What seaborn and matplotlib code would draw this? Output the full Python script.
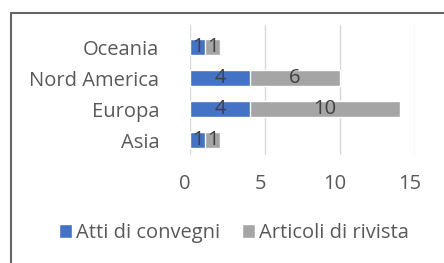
import pandas as pd
import seaborn as sns
import matplotlib.pyplot as plt
from matplotlib.patches import Rectangle
from matplotlib.transforms import ScaledTranslation

# dati
regioni = ['Oceania', 'Nord America', 'Europa', 'Asia']
atti_convegni = [1, 4, 4, 1]
articoli_rivista = [1, 6, 10, 1]

BLU = '#4472C4'
GRIGIO = '#A5A5A5'

df = pd.DataFrame({'Regione': regioni,
                   'Atti di convegni': atti_convegni,
                   'Articoli di rivista': articoli_rivista})
df['Totale'] = df['Atti di convegni'] + df['Articoli di rivista']

sns.set_style('white')
plt.rcParams['font.family'] = ['Open Sans', 'DejaVu Sans']
FS = 14.5

fig = plt.figure(figsize=(4.44, 2.63), dpi=100)
ax = fig.add_axes([190/444, 1 - 155/263, 225/444, 130/263])

# barre impilate: prima il totale (grigio), poi gli atti (blu) sopra
sns.barplot(data=df, y='Regione', x='Totale', order=regioni, color=GRIGIO,
            width=0.5, saturation=1, ax=ax, label='Articoli di rivista')
sns.barplot(data=df, y='Regione', x='Atti di convegni', order=regioni, color=BLU,
            width=0.5, saturation=1, ax=ax, label='Atti di convegni')
h, l = ax.get_legend_handles_labels()
if ax.get_legend():
    ax.get_legend().remove()

# etichette dei valori
for i, (a, r) in enumerate(zip(atti_convegni, articoli_rivista)):
    ax.text(a / 2, i, str(a), ha='center', va='center', fontsize=FS, color='#404040')
    ax.text(a + r / 2, i, str(r), ha='center', va='center', fontsize=FS, color='#404040')

ax.set_xlim(0, 15)
ax.set_ylim(3.48, -0.71)
ax.set_xticks([0, 5, 10, 15])
ax.grid(axis='x', color='#D9D9D9', linewidth=1)
ax.set_axisbelow(True)
for s in ax.spines.values():
    s.set_visible(False)
ax.set_xlabel('')
ax.set_ylabel('')
ax.tick_params(axis='y', length=0, pad=22, labelsize=FS, labelcolor='#595959')
ax.tick_params(axis='x', length=0, pad=14, labelsize=FS, labelcolor='#595959')
for lab in ax.get_xticklabels():
    lab.set_transform(lab.get_transform() + ScaledTranslation(-5/100, 0, fig.dpi_scale_trans))

# legenda in basso
fig.legend(h[::-1], l[::-1], loc='center', bbox_to_anchor=(234/444, 1 - 233/263),
           ncol=2, frameon=False, fontsize=FS, labelcolor='#595959',
           handlelength=0.65, handleheight=0.65, handletextpad=0.2, columnspacing=1.1)

# cornice del grafico (tagliata a destra e in basso)
fig.patches.append(Rectangle((10.5/444, -0.1), 1.2, 1 - 13/263 + 0.1,
                             transform=fig.transFigure, fill=False,
                             edgecolor='#666666', linewidth=1.5))

fig.savefig('out.png', dpi=100)
